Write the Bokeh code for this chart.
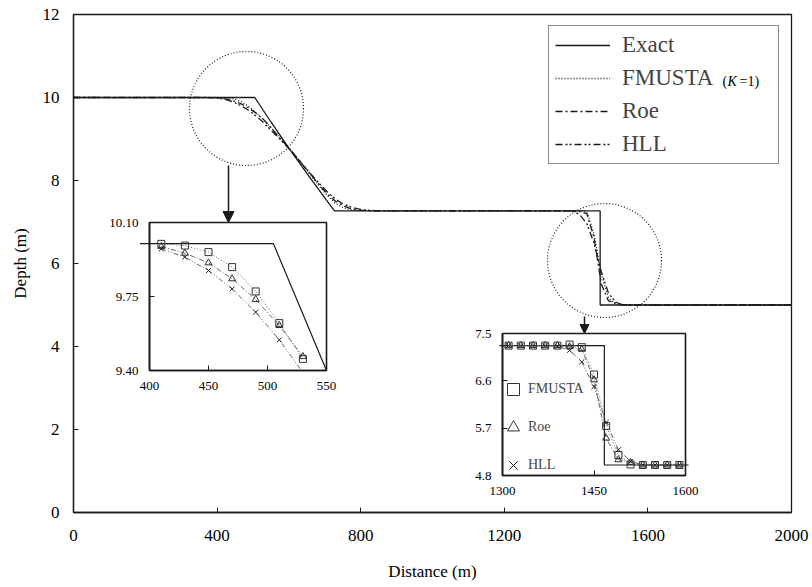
from bokeh.plotting import figure
from bokeh.models import (Range1d, LinearAxis, FixedTicker, NumeralTickFormatter,
                          Legend, LegendItem, Arrow, NormalHead)
from bokeh.core.properties import value
from bokeh.embed import file_html
from bokeh.resources import INLINE

# ---------------- data ----------------
# main plot: exact solution
exact_x = [0, 505, 550, 600, 650, 700, 727, 1467, 1467, 2000]
exact_h = [10.0, 10.0, 9.41, 8.78, 8.17, 7.58, 7.27, 7.27, 5.0, 5.0]

# main plot: numerical solutions
num_x = [0, 370, 390, 410, 430, 450, 470, 490, 510, 530, 550, 570, 590, 610, 630,
         650, 670, 690, 710, 730, 750, 770, 790, 810, 830, 850,
         1390, 1410, 1430, 1450, 1470, 1490, 1510, 1530, 2000]
fmusta_h = [10.0, 10.0, 10.0, 9.999, 9.991, 9.960, 9.889, 9.774, 9.624, 9.455, 9.28, 9.09,
            8.89, 8.68, 8.46, 8.24, 8.02, 7.81, 7.61, 7.45, 7.35, 7.30, 7.28, 7.27, 7.27, 7.27,
            7.27, 7.28, 7.24, 6.72, 5.74, 5.19, 5.01, 5.0, 5.0]
roe_h = [10.0, 10.0, 9.995, 9.986, 9.955, 9.909, 9.834, 9.736, 9.613, 9.466, 9.27, 9.07,
         8.88, 8.68, 8.47, 8.26, 8.05, 7.84, 7.65, 7.50, 7.40, 7.33, 7.29, 7.28, 7.27, 7.27,
         7.27, 7.25, 7.20, 6.62, 5.51, 5.10, 5.05, 5.0, 5.0]
hll_h = [10.0, 9.997, 9.99, 9.975, 9.936, 9.873, 9.786, 9.676, 9.545, 9.39, 9.21, 9.04,
         8.86, 8.67, 8.47, 8.27, 8.07, 7.88, 7.70, 7.55, 7.44, 7.37, 7.32, 7.29, 7.28, 7.27,
         7.27, 7.18, 6.96, 6.49, 5.81, 5.29, 5.07, 5.0, 5.0]

# inset 1 (zoom on rarefaction head)
ins1_exact_x = [392, 505, 550]
ins1_exact_h = [10.0, 10.0, 9.40]
ins1_x = [410, 430, 450, 470, 490, 510, 530]
ins1_fmusta = [9.999, 9.991, 9.960, 9.889, 9.774, 9.624, 9.455]
ins1_roe = [9.986, 9.955, 9.909, 9.834, 9.736, 9.613, 9.466]
ins1_hll = [9.975, 9.936, 9.873, 9.786, 9.676, 9.545, 9.39]
ins1_xticks = [400, 450, 500, 550]
ins1_yticks = [9.40, 9.75, 10.10]

# inset 2 (zoom on the shock)
ins2_exact_x = [1295, 1467, 1467, 1605]
ins2_exact_h = [7.27, 7.27, 5.0, 5.0]
ins2_x = [1310, 1330, 1350, 1370, 1390, 1410, 1430, 1450, 1470, 1490, 1510, 1530,
          1550, 1570, 1590]
ins2_fmusta = [7.27, 7.27, 7.27, 7.27, 7.27, 7.29, 7.24, 6.72, 5.74, 5.19, 5.01, 5.0,
               5.0, 5.0, 5.0]
ins2_roe = [7.27, 7.27, 7.27, 7.27, 7.27, 7.25, 7.20, 6.62, 5.51, 5.10, 5.05, 5.0,
            5.0, 5.0, 5.0]
ins2_hll = [7.27, 7.27, 7.27, 7.27, 7.26, 7.18, 6.96, 6.49, 5.81, 5.29, 5.07, 5.0,
            5.0, 5.0, 5.0]
ins2_xticks = [1300, 1450, 1600]
ins2_yticks = [4.8, 5.7, 6.6, 7.5]

x_ticks = [0, 400, 800, 1200, 1600, 2000]
y_ticks = [0, 2, 4, 6, 8, 10, 12]

# legend note attached to the FMUSTA entry
note_parts = ["(", "K", "=1)"]

# ---------------- layout ----------------
W, H = 812, 587
FL, FR, FT, FB = 73, 791, 14, 512          # frame edges in pixels
XMAX, YMAX = 2000, 12
FONT = "Liberation Serif"
DARK = "#1a1a1a"
GRAY = "#555555"

def px2x(px):
    return (px - FL) / (FR - FL) * XMAX

def px2y(py):
    return (FB - py) / (FB - FT) * YMAX

def inset_ranges(d0, d1, p0, p1, lo, hi, flip=False):
    s = (p1 - p0) / (d1 - d0)
    if not flip:
        return Range1d(d0 - (p0 - lo) / s, d1 + (hi - p1) / s)
    return Range1d(d0 - (hi - p1) / s, d1 + (p0 - lo) / s)

p = figure(width=W, height=H, output_backend="svg", toolbar_location=None,
           x_range=Range1d(0, XMAX), y_range=Range1d(0, YMAX),
           min_border_left=FL, min_border_right=W - FR,
           min_border_top=FT, min_border_bottom=H - FB)
p.background_fill_color = "white"
p.border_fill_color = "white"
p.outline_line_color = DARK
p.outline_line_width = 1.3
p.xgrid.visible = False
p.ygrid.visible = False

# inset coordinate systems (pixel boxes of the insets inside the frame)
p.extra_x_ranges = {
    "i1x": inset_ranges(400, 550, 149, 326, FL, FR),
    "i2x": inset_ranges(1300, 1600, 502, 685, FL, FR),
}
p.extra_y_ranges = {
    "i1y": inset_ranges(9.40, 10.10, 222, 370, FT, FB, flip=True),
    "i2y": inset_ranges(4.8, 7.5, 333, 475, FT, FB, flip=True),
}

# main axes
for ax in (p.xaxis[0], p.yaxis[0]):
    ax.major_tick_in = 5
    ax.major_tick_out = 0
    ax.minor_tick_in = 0
    ax.minor_tick_out = 0
    ax.axis_line_width = 1.3
    ax.axis_line_color = DARK
    ax.major_tick_line_color = DARK
    ax.major_label_text_font = FONT
    ax.major_label_text_font_size = "17px"
    ax.major_label_text_color = "black"
    ax.axis_label_text_font = FONT
    ax.axis_label_text_font_size = "17px"
    ax.axis_label_text_font_style = "normal"
    ax.axis_label_text_color = "black"
p.xaxis[0].ticker = FixedTicker(ticks=x_ticks)
p.yaxis[0].ticker = FixedTicker(ticks=y_ticks)
p.xaxis[0].axis_label = "Distance (m)"
p.yaxis[0].axis_label = "Depth (m)"
p.xaxis[0].major_label_standoff = 17
p.yaxis[0].major_label_standoff = 14
p.xaxis[0].axis_label_standoff = 18
p.yaxis[0].axis_label_standoff = 10

# main curves
r_exact = p.line(exact_x, exact_h, line_color=DARK, line_width=1.3)
r_fm = p.line(num_x, fmusta_h, line_color=DARK, line_width=1.3, line_dash="1 2")
r_roe = p.line(num_x, roe_h, line_color=DARK, line_width=1.3, line_dash="7 3 2 3")
r_hll = p.line(num_x, hll_h, line_color=DARK, line_width=1.3, line_dash="7 3 2 2 2 3")

# highlight circles and arrows
p.circle(x=[px2x(246)], y=[px2y(108)], radius=57, radius_units="screen",
         fill_color=None, line_color=DARK, line_width=1.2, line_dash="1 2")
p.circle(x=[px2x(604)], y=[px2y(260)], radius=57, radius_units="screen",
         fill_color=None, line_color=DARK, line_width=1.2, line_dash="1 2")
p.add_layout(Arrow(end=NormalHead(size=11, fill_color=DARK, line_color=DARK),
                   x_start=px2x(228), y_start=px2y(165), x_end=px2x(228), y_end=px2y(222),
                   line_color=DARK, line_width=1.5))
p.add_layout(Arrow(end=NormalHead(size=9, fill_color=DARK, line_color=DARK),
                   x_start=px2x(584), y_start=px2y(316), x_end=px2x(584), y_end=px2y(333),
                   line_color=DARK, line_width=1.5))

# ---------------- inset 1 ----------------
kw1 = dict(x_range_name="i1x", y_range_name="i1y")
p.quad(left=[ins1_xticks[0]], right=[ins1_xticks[-1]], bottom=[ins1_yticks[0]],
       top=[ins1_yticks[-1]], fill_color=None, line_color=DARK, line_width=1.6, **kw1)
p.line(ins1_exact_x, ins1_exact_h, line_color=DARK, line_width=1.2, **kw1)
p.line(ins1_x, ins1_fmusta, line_color=GRAY, line_width=0.9, line_dash="1 2", **kw1)
p.line(ins1_x, ins1_roe, line_color=GRAY, line_width=0.9, line_dash="5 2 1 2", **kw1)
p.line(ins1_x, ins1_hll, line_color=GRAY, line_width=0.9, line_dash="5 2 1 2 1 2", **kw1)
p.scatter(ins1_x, ins1_fmusta, marker="square", size=7, fill_color=None,
          line_color="#333333", line_width=1, **kw1)
p.scatter(ins1_x, ins1_roe, marker="triangle", size=7, fill_color=None,
          line_color="#333333", line_width=1, **kw1)
p.scatter(ins1_x[:-1], ins1_hll[:-1], marker="x", size=7, line_color="#222222",
          line_width=1, **kw1)

def inset_axes(xr, yr, xticks, yticks, yfmt):
    ax_x = LinearAxis(x_range_name=xr, y_range_name=yr, fixed_location=yticks[0],
                      bounds=(xticks[0], xticks[-1]), ticker=FixedTicker(ticks=xticks))
    ax_y = LinearAxis(x_range_name=xr, y_range_name=yr, fixed_location=xticks[0],
                      bounds=(yticks[0], yticks[-1]), ticker=FixedTicker(ticks=yticks),
                      formatter=NumeralTickFormatter(format=yfmt))
    for ax in (ax_x, ax_y):
        ax.major_tick_in = 5
        ax.major_tick_out = 0
        ax.minor_tick_in = 0
        ax.minor_tick_out = 0
        ax.axis_line_width = 1.6
        ax.axis_line_color = DARK
        ax.major_tick_line_color = DARK
        ax.major_label_text_font = FONT
        ax.major_label_text_font_size = "13px"
        ax.major_label_text_color = "black"
    ax_x.major_label_standoff = 11
    ax_y.major_label_standoff = 11
    p.add_layout(ax_x, "below")
    p.add_layout(ax_y, "left")

inset_axes("i1x", "i1y", ins1_xticks, ins1_yticks, "0.00")

# ---------------- inset 2 ----------------
kw2 = dict(x_range_name="i2x", y_range_name="i2y")
p.quad(left=[ins2_xticks[0]], right=[ins2_xticks[-1]], bottom=[ins2_yticks[0]],
       top=[ins2_yticks[-1]], fill_color=None, line_color=DARK, line_width=1.6, **kw2)
p.line(ins2_exact_x, ins2_exact_h, line_color=DARK, line_width=1.2, **kw2)
p.line(ins2_x, ins2_fmusta, line_color=GRAY, line_width=0.9, line_dash="1 2", **kw2)
p.line(ins2_x, ins2_roe, line_color=GRAY, line_width=0.9, line_dash="5 2 1 2", **kw2)
p.line(ins2_x, ins2_hll, line_color=GRAY, line_width=0.9, line_dash="5 2 1 2 1 2", **kw2)
s_fm = p.scatter(ins2_x, ins2_fmusta, marker="square", size=7, fill_color=None,
                 line_color="#333333", line_width=1, **kw2)
s_roe = p.scatter(ins2_x, ins2_roe, marker="triangle", size=7, fill_color=None,
                  line_color="#333333", line_width=1, **kw2)
s_hll = p.scatter(ins2_x, ins2_hll, marker="x", size=7, line_color="#222222",
                  line_width=1, **kw2)
inset_axes("i2x", "i2y", ins2_xticks, ins2_yticks, "0.0")

leg2 = Legend(items=[LegendItem(label="FMUSTA", renderers=[s_fm]),
                     LegendItem(label="Roe", renderers=[s_roe]),
                     LegendItem(label="HLL", renderers=[s_hll])],
              location=(498 - FL, FB - 480), orientation="vertical",
              glyph_width=30, glyph_height=30, label_height=30, label_standoff=0,
              spacing=8, padding=0, border_line_color=None, background_fill_alpha=0,
              label_text_font=FONT, label_text_font_size="14px")
p.add_layout(leg2)

# ---------------- main legend ----------------
leg = Legend(items=[LegendItem(label="Exact", renderers=[r_exact]),
                    LegendItem(label="FMUSTA", renderers=[r_fm]),
                    LegendItem(label="Roe", renderers=[r_roe]),
                    LegendItem(label="HLL", renderers=[r_hll])],
             location=(548 - FL, FB - 164), orientation="vertical",
             glyph_width=55, glyph_height=26, label_height=26, label_width=150,
             label_standoff=12, spacing=7, padding=6,
             border_line_color=DARK, border_line_width=1.2,
             background_fill_alpha=0,
             label_text_font=FONT, label_text_font_size="23px")
p.add_layout(leg)

# "(K =1)" note next to the FMUSTA entry
ky = px2y(81)
note = p.text(x=[px2x(722), px2x(727), px2x(739)], y=[ky, ky, ky], text=note_parts,
              text_font=value(FONT), text_font_size="14px",
              text_font_style=["normal", "italic", "normal"],
              text_baseline="middle", text_align="left", text_color="black")
note.level = "overlay"

open("out.html", "w").write(file_html(p, INLINE))
